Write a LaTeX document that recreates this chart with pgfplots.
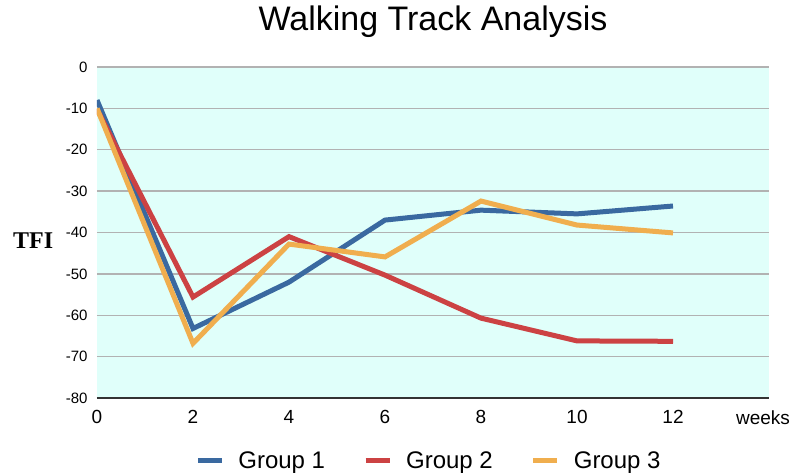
\documentclass[border=0pt]{standalone}
\usepackage{fontspec}
\setmainfont{Liberation Sans}
\newfontfamily\serifb{Liberation Serif}
\usepackage{pgfplots}
\pgfplotsset{compat=1.18}
\definecolor{bgcyan}{HTML}{E0FFFA}
\definecolor{gblue}{HTML}{3A69A0}
\definecolor{gred}{HTML}{CC4243}
\definecolor{gorange}{HTML}{F0AE4E}
\begin{document}
\begin{tikzpicture}
\useasboundingbox (-97pt,-75pt) rectangle (694pt,398pt);
\begin{axis}[
  scale only axis,
  width=672pt, height=331pt,
  xmin=0, xmax=14, ymin=-80, ymax=0,
  xtick={0,2,4,6,8,10,12,14},
  xticklabels={0,2,4,6,8,10,12,{\hspace*{-12pt}weeks}},
  ytick={-80,-70,...,0},
  /pgf/number format/assume math mode=true,
  major tick length=0pt,
  axis x line*=bottom,
  axis y line*=left,
  x axis line style={draw=black!80, line width=1.3pt},
  y axis line style={draw=none},
  ymajorgrids,
  grid style={draw=black!30, line width=1.3pt},
  axis background/.style={fill=bgcyan},
  xticklabel style={font=\fontsize{19}{21}\selectfont, yshift=-9pt},
  yticklabel style={font=\fontsize{15}{17}\selectfont, xshift=-6pt},
  title={Walking Track Analysis},
  title style={font=\fontsize{34}{38}\selectfont, at={(axis description cs:0.5,1)}, anchor=center, yshift=39pt},
  ylabel={\serifb\bfseries TFI},
  ylabel style={font=\fontsize{24}{26}\selectfont, rotate=-90, at={(axis description cs:-0.095,0.474)}, anchor=center},
  legend columns=3,
  legend style={draw=none, fill=none, at={(axis description cs:0.494,-0.19)}, anchor=center,
    font=\fontsize{24}{26}\selectfont,
    /tikz/every odd column/.append style={column sep=12pt},
    /tikz/every even column/.append style={column sep=36pt}},
  legend image code/.code={\draw[line width=5pt] (0pt,0pt) -- (24pt,0pt);},
  every axis plot/.append style={line width=5pt, line join=miter},
]
\addplot[gblue] coordinates {(0,-8) (2,-63.2) (4,-52) (6,-37) (8,-34.6) (10,-35.5) (12,-33.6)};
\addlegendentry{Group 1}
\addplot[gred] coordinates {(0,-10.2) (2,-55.6) (4,-41) (6,-50.3) (8,-60.7) (10,-66.2) (12,-66.3)};
\addlegendentry{Group 2}
\addplot[gorange] coordinates {(0,-10) (2,-66.8) (4,-42.8) (6,-45.9) (8,-32.4) (10,-38.2) (12,-40.1)};
\addlegendentry{Group 3}
\end{axis}
\end{tikzpicture}
\end{document}
